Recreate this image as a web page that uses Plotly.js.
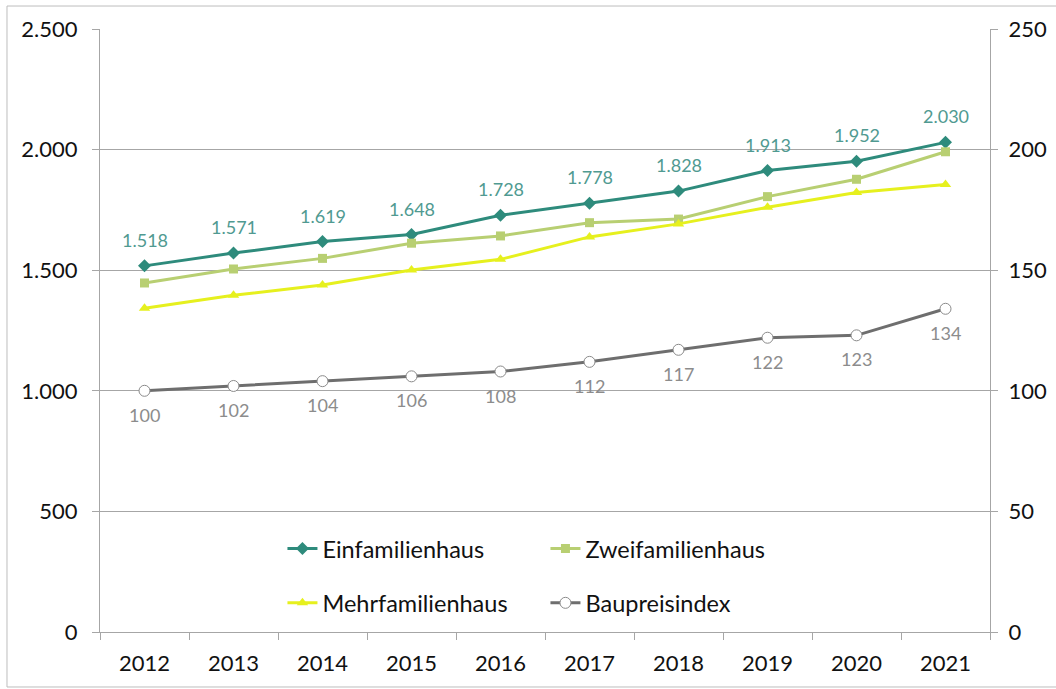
<!DOCTYPE html>
<html>
<head>
<meta charset="utf-8">
<script src="https://cdn.plot.ly/plotly-3.0.1.min.js"></script>
<style>
  html, body { margin: 0; padding: 0; background: #fff; }
  #plot { width: 1056px; height: 689px; }
</style>
</head>
<body>
<div id="plot"></div>
<script>
// Jahre und Preise je Haustyp (linke Achse), Baupreisindex (rechte Achse)
let years = ["2012", "2013", "2014", "2015", "2016", "2017", "2018", "2019", "2020", "2021"];
let einfamilienhaus = [1518, 1571, 1619, 1648, 1728, 1778, 1828, 1913, 1952, 2030];
let zweifamilienhaus = [1447, 1505, 1549, 1612, 1642, 1697, 1712, 1805, 1877, 1991];
let mehrfamilienhaus = [1342, 1396, 1439, 1501, 1545, 1638, 1692, 1761, 1822, 1855];
let baupreisindex = [100, 102, 104, 106, 108, 112, 117, 122, 123, 134];

let font = "Lato, 'Liberation Sans', sans-serif";

// 1518 -> "1.518"
function fmt(v) {
    return String(v).replace(/\B(?=(\d{3})+$)/g, ".");
}

let trace1 = {
    x: years,
    y: einfamilienhaus,
    name: "Einfamilienhaus",
    mode: "lines+markers",
    line: {color: "#2e8b7c", width: 3},
    marker: {symbol: "diamond", size: 10, color: "#2e8b7c"},
    legend: "legend"
};

let trace2 = {
    x: years,
    y: zweifamilienhaus,
    name: "Zweifamilienhaus",
    mode: "lines+markers",
    line: {color: "#b8cf72", width: 3},
    marker: {symbol: "square", size: 9, color: "#b8cf72"},
    legend: "legend"
};

let trace3 = {
    x: years,
    y: mehrfamilienhaus,
    name: "Mehrfamilienhaus",
    mode: "lines+markers",
    line: {color: "#e6f01e", width: 3},
    marker: {symbol: "triangle-up", size: 10, color: "#e6f01e"},
    legend: "legend2"
};

let trace4 = {
    x: years,
    y: baupreisindex,
    name: "Baupreisindex",
    yaxis: "y2",
    mode: "lines+markers",
    line: {color: "#6e6e6e", width: 3},
    marker: {symbol: "circle", size: 11, color: "#ffffff", line: {color: "#8a8a8a", width: 1}},
    legend: "legend2"
};

// Datenbeschriftungen (x als Kategorie-Index)
let annotations = [];
years.forEach((yr, i) => {
    annotations.push({
        x: i, y: einfamilienhaus[i], xref: "x", yref: "y",
        text: fmt(einfamilienhaus[i]), showarrow: false, yshift: 26,
        font: {family: font, size: 18, color: "#509a91"}
    });
    annotations.push({
        x: i, y: baupreisindex[i], xref: "x", yref: "y2",
        text: String(baupreisindex[i]), showarrow: false, yshift: -24,
        font: {family: font, size: 18, color: "#8c8c8c"}
    });
});

let legendBase = {
    orientation: "h",
    xref: "paper", yref: "paper",
    x: 0.205, xanchor: "left", yanchor: "middle",
    entrywidth: 218, entrywidthmode: "pixels",
    bgcolor: "rgba(0,0,0,0)",
    font: {family: font, size: 23.5, color: "#111"},
    itemwidth: 30
};

let tickFont = {family: font, size: 22, color: "#111"};

let layout = {
    width: 1056,
    height: 689,
    margin: {l: 100, r: 66, t: 29, b: 57},
    paper_bgcolor: "#ffffff",
    plot_bgcolor: "#ffffff",
    separators: ",.",
    font: {family: font, size: 20, color: "#111"},
    showlegend: true,
    legend: Object.assign({}, legendBase, {y: 0.138}),
    legend2: Object.assign({}, legendBase, {y: 0.048}),
    xaxis: {
        type: "category",
        range: [-0.5, 9.5],
        showgrid: false,
        showline: true, linecolor: "#a6a6a6", linewidth: 1,
        ticks: "outside", tickson: "boundaries", ticklen: 7, tickcolor: "#a6a6a6",
        tickfont: tickFont,
        tickangle: 0,
        ticklabelstandoff: 12,
        zeroline: false
    },
    yaxis: {
        range: [0, 2500],
        dtick: 500,
        tickformat: ",d",
        showgrid: true, gridcolor: "#a6a6a6", gridwidth: 1,
        showline: true, linecolor: "#a6a6a6",
        ticks: "outside", ticklen: 7, tickcolor: "#a6a6a6",
        tickfont: tickFont,
        ticklabelstandoff: 10,
        zeroline: false
    },
    yaxis2: {
        range: [0, 250],
        dtick: 50,
        overlaying: "y",
        side: "right",
        showgrid: false,
        showline: true, linecolor: "#a6a6a6",
        ticks: "outside", ticklen: 7, tickcolor: "#a6a6a6",
        tickfont: tickFont,
        ticklabelstandoff: 6,
        zeroline: false
    },
    annotations: annotations,
    shapes: [{
        type: "rect", xref: "paper", yref: "paper",
        x0: -0.1045, x1: 1.08, y0: -0.0912, y1: 1.0381,
        line: {color: "#bdbdbd", width: 1}
    }]
};

Plotly.newPlot("plot", [trace1, trace2, trace3, trace4], layout, {displayModeBar: false});
</script>
</body>
</html>
